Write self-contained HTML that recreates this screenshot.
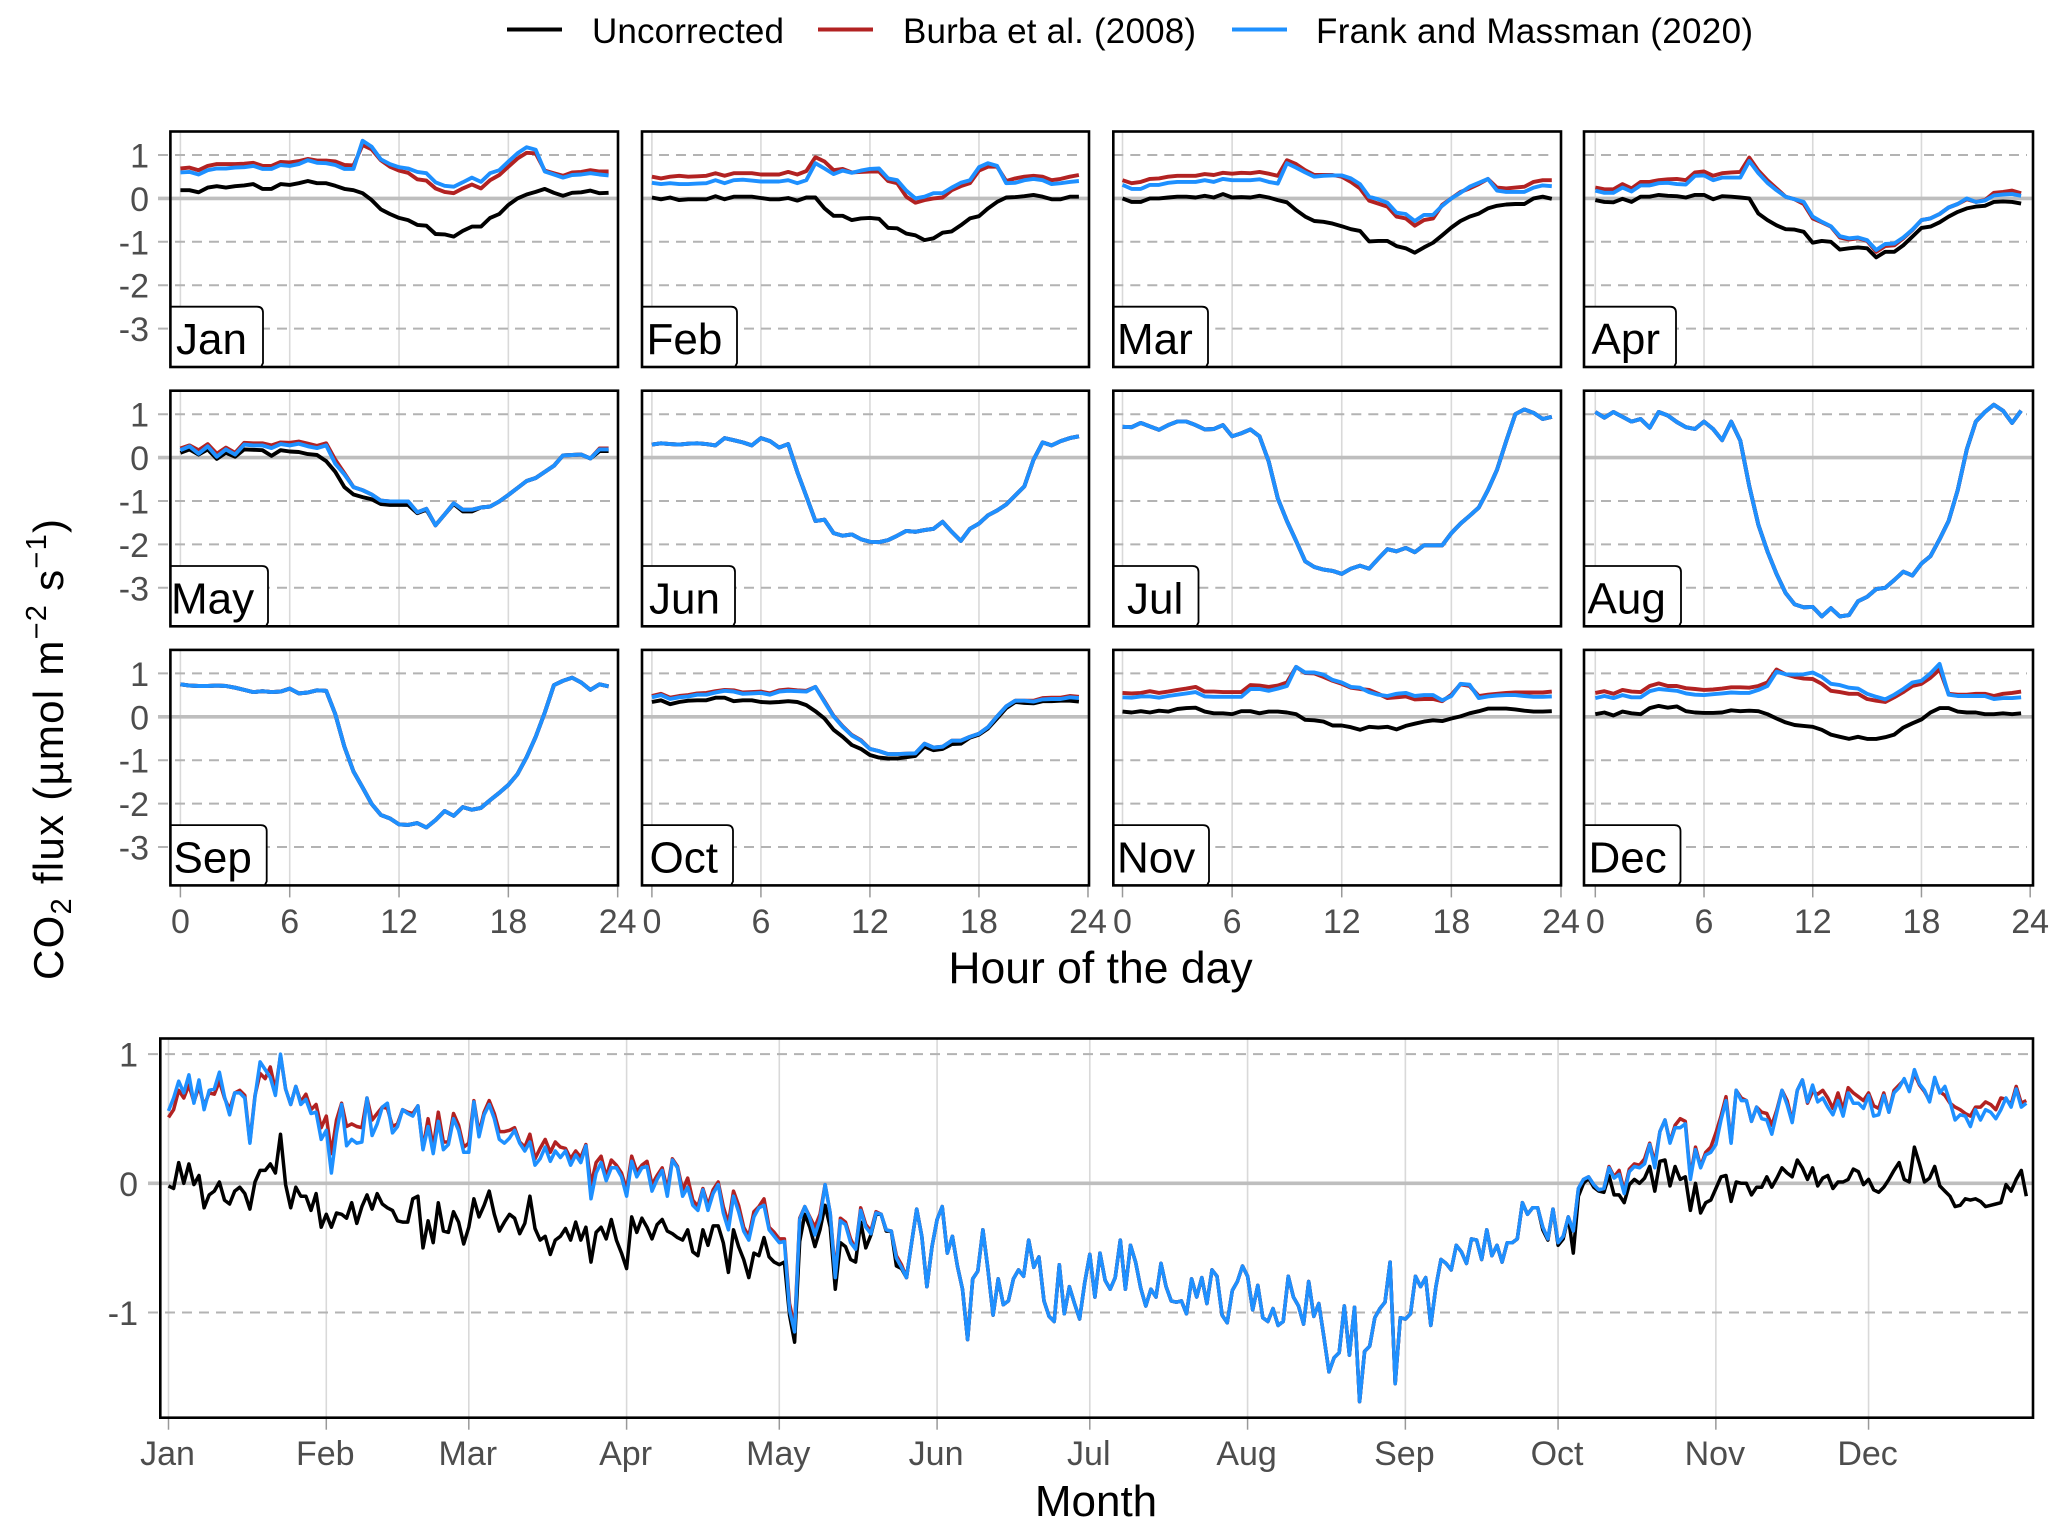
<!DOCTYPE html>
<html lang="en"><head><meta charset="utf-8"><title>CO2 flux corrections</title>
<style>html,body{margin:0;padding:0;background:#fff}svg{display:block}text{font-family:"Liberation Sans",Arial,sans-serif}</style></head>
<body>
<svg id="chart" xmlns="http://www.w3.org/2000/svg" width="2067" height="1534" viewBox="0 0 2067 1534">
<rect width="2067" height="1534" fill="#fff"/>
<g>
<line x1="507" x2="562" y1="29.5" y2="29.5" stroke="#000" stroke-width="4"/>
<text x="592" y="43" font-size="35" textLength="192" fill="#000">Uncorrected</text>
<line x1="818" x2="873" y1="29.5" y2="29.5" stroke="#b22222" stroke-width="4"/>
<text x="903" y="43" font-size="35" textLength="293" fill="#000">Burba et al. (2008)</text>
<line x1="1232" x2="1287" y1="29.5" y2="29.5" stroke="#1e90ff" stroke-width="4"/>
<text x="1316" y="43" font-size="35" textLength="437" fill="#000">Frank and Massman (2020)</text>
</g>
<text transform="translate(63,980) rotate(-90)" font-size="42" textLength="461" fill="#000">CO<tspan dy="8" font-size="29">2</tspan><tspan dy="-8"> flux (µmol m</tspan><tspan dy="-17" font-size="29">−2</tspan><tspan dy="17"> s</tspan><tspan dy="-17" font-size="29">−1</tspan><tspan dy="17">)</tspan></text>
<text x="1100.5" y="983" font-size="44.5" text-anchor="middle" fill="#000">Hour of the day</text>
<text x="1096" y="1516" font-size="44" text-anchor="middle" fill="#000">Month</text>
</svg>
<script>
const monthLabels=["Jan","Feb","Mar","Apr","May","Jun","Jul","Aug","Sep","Oct","Nov","Dec"];
const hourTicks=[0,6,12,18,24];
const fluxTicks=[1,0,-1,-2,-3];
const dailyFluxTicks=[1,0,-1];
const dailyMonthLabels=["Jan","Feb","Mar","Apr","May","Jun","Jul","Aug","Sep","Oct","Nov","Dec"];
const dailyMonthStarts=[0,31,59,90,120,151,181,212,243,273,304,334];

const janUncorrected=[.19,.19,.14,.25,.28,.25,.28,.30,.33,.22,.22,.33,.31,.35,.40,.35,.35,.29,.22,.19,.12,-.04,-.25,-.36,-.45,-.50,-.61,-.63,-.82,-.83,-.88,-.75,-.65,-.65,-.45,-.36,-.15,0,.09,.15,.22,.13,.06,.13,.14,.18,.12,.13];
const janBurba=[.69,.71,.65,.75,.79,.79,.79,.80,.82,.75,.75,.84,.83,.86,.91,.87,.87,.85,.77,.76,1.23,1.13,.88,.73,.64,.59,.44,.41,.23,.15,.12,.23,.32,.23,.42,.54,.73,.92,1.05,1.04,.64,.58,.52,.60,.61,.65,.62,.62];
const janFrank=[.60,.61,.55,.65,.69,.69,.71,.72,.75,.68,.68,.77,.75,.79,.88,.82,.81,.77,.68,.68,1.33,1.19,.90,.79,.72,.69,.61,.58,.37,.29,.27,.37,.48,.38,.58,.65,.85,1.04,1.18,1.12,.62,.55,.48,.54,.55,.58,.55,.53];
const febUncorrected=[.02,-.02,.02,-.04,-.02,-.02,-.02,.05,-.02,.04,.04,.04,.01,-.02,-.02,.01,-.05,.02,.02,-.23,-.40,-.40,-.50,-.46,-.45,-.47,-.68,-.69,-.81,-.85,-.96,-.92,-.79,-.76,-.62,-.46,-.41,-.23,-.08,.02,.03,.05,.08,.04,-.02,-.02,.04,.04];
const febBurba=[.50,.46,.50,.52,.50,.51,.52,.58,.52,.58,.58,.58,.55,.55,.55,.61,.55,.63,.95,.85,.65,.68,.60,.61,.62,.62,.40,.35,.04,-.10,-.04,0,.02,.19,.28,.35,.64,.73,.73,.40,.46,.50,.52,.50,.42,.45,.50,.54];
const febFrank=[.36,.33,.35,.33,.33,.34,.35,.42,.35,.42,.43,.41,.39,.39,.39,.42,.35,.42,.81,.69,.56,.64,.59,.64,.68,.69,.46,.42,.18,0,.04,.12,.12,.25,.36,.42,.72,.81,.75,.35,.36,.42,.45,.42,.33,.35,.38,.40];
const marUncorrected=[0,-.08,-.08,0,0,.02,.04,.04,.02,.06,.02,.10,.02,.03,.02,.06,.02,-.04,-.09,-.27,-.42,-.52,-.54,-.58,-.64,-.71,-.75,-.99,-.98,-.98,-1.10,-1.15,-1.25,-1.13,-1.02,-.85,-.67,-.52,-.42,-.35,-.23,-.17,-.14,-.13,-.13,0,.04,-.01];
const marBurba=[.42,.35,.38,.45,.46,.50,.52,.52,.52,.56,.54,.59,.57,.59,.58,.61,.57,.52,.88,.79,.65,.54,.54,.54,.50,.38,.23,-.05,-.12,-.19,-.42,-.46,-.63,-.50,-.46,-.15,0,.15,.23,.33,.45,.25,.23,.25,.27,.38,.42,.42];
const marFrank=[.31,.22,.22,.31,.31,.36,.38,.38,.38,.42,.38,.45,.42,.42,.42,.44,.38,.34,.81,.71,.60,.50,.52,.53,.53,.46,.33,.04,-.02,-.10,-.33,-.36,-.52,-.38,-.38,-.17,0,.13,.27,.36,.45,.18,.15,.15,.15,.25,.30,.28];
const aprUncorrected=[-.04,-.08,-.09,-.01,-.08,.04,.04,.08,.06,.05,.02,.08,.08,-.02,.05,.04,.02,0,-.35,-.50,-.62,-.71,-.72,-.77,-1.02,-.98,-1.0,-1.18,-1.15,-1.13,-1.15,-1.36,-1.23,-1.23,-1.08,-.88,-.68,-.65,-.55,-.42,-.31,-.23,-.19,-.17,-.08,-.07,-.08,-.12];
const aprBurba=[.25,.21,.21,.33,.23,.38,.38,.42,.44,.45,.42,.60,.62,.52,.58,.60,.61,.94,.64,.42,.23,.04,-.02,-.13,-.46,-.55,-.65,-.90,-.95,-.92,-.98,-1.23,-1.10,-1.08,-.92,-.73,-.50,-.46,-.36,-.21,-.13,-.02,-.08,-.04,.13,.15,.18,.12];
const aprFrank=[.18,.13,.13,.25,.16,.30,.30,.35,.36,.33,.32,.52,.53,.42,.48,.48,.48,.86,.58,.36,.19,.04,-.02,-.08,-.42,-.54,-.64,-.87,-.92,-.90,-.96,-1.19,-1.05,-1.04,-.90,-.72,-.50,-.46,-.36,-.21,-.13,0,-.08,-.05,.07,.09,.10,.06];
const mayUncorrected=[.11,.19,.07,.19,-.03,.11,.02,.19,.18,.17,.04,.17,.14,.13,.08,.06,-.08,-.33,-.68,-.85,-.91,-.96,-1.07,-1.09,-1.09,-1.09,-1.28,-1.20,-1.56,-1.31,-1.07,-1.24,-1.24,-1.15,-1.13,-1.01,-.86,-.70,-.54,-.47,-.33,-.19,.05,.06,.07,-.02,.15,.15];
const mayBurba=[.21,.28,.17,.31,.09,.23,.11,.34,.33,.33,.28,.35,.34,.37,.32,.27,.33,-.05,-.36,-.68,-.75,-.85,-.99,-1.01,-1.01,-1.01,-1.26,-1.18,-1.56,-1.31,-1.05,-1.20,-1.20,-1.15,-1.13,-1.01,-.86,-.70,-.54,-.47,-.33,-.19,.05,.06,.07,-.02,.21,.21];
const mayFrank=[.17,.26,.09,.26,.02,.19,.07,.30,.28,.28,.22,.31,.28,.32,.26,.22,.28,-.14,-.39,-.68,-.75,-.85,-.99,-1.01,-1.01,-1.01,-1.26,-1.18,-1.56,-1.31,-1.05,-1.20,-1.20,-1.15,-1.13,-1.01,-.86,-.70,-.54,-.47,-.33,-.19,.05,.06,.07,-.02,.19,.19];
const junFrank=[.30,.33,.31,.30,.32,.33,.31,.28,.45,.40,.35,.28,.45,.38,.23,.31,-.33,-.89,-1.46,-1.43,-1.74,-1.80,-1.77,-1.88,-1.94,-1.95,-1.90,-1.80,-1.69,-1.71,-1.67,-1.64,-1.48,-1.71,-1.92,-1.64,-1.52,-1.33,-1.22,-1.08,-.87,-.66,-.05,.35,.28,.38,.45,.49];
const julFrank=[.71,.70,.80,.72,.64,.75,.83,.83,.75,.65,.66,.75,.49,.56,.65,.49,-.09,-.94,-1.46,-1.92,-2.39,-2.52,-2.58,-2.61,-2.68,-2.56,-2.49,-2.56,-2.33,-2.11,-2.16,-2.08,-2.18,-2.02,-2.02,-2.02,-1.74,-1.52,-1.34,-1.15,-.75,-.28,.38,1.0,1.11,1.03,.89,.94];
const augFrank=[1.05,.92,1.05,.94,.83,.89,.69,1.05,.97,.82,.70,.66,.83,.66,.40,.83,.39,-.66,-1.55,-2.16,-2.68,-3.12,-3.38,-3.45,-3.44,-3.66,-3.47,-3.66,-3.63,-3.31,-3.21,-3.03,-3.0,-2.82,-2.63,-2.72,-2.44,-2.27,-1.88,-1.46,-.75,.19,.83,1.05,1.22,1.08,.80,1.08];
const sepFrank=[.75,.72,.71,.71,.72,.71,.67,.62,.57,.59,.57,.58,.65,.54,.56,.61,.60,.06,-.69,-1.26,-1.63,-2.01,-2.26,-2.34,-2.48,-2.49,-2.45,-2.55,-2.38,-2.17,-2.28,-2.08,-2.14,-2.10,-1.92,-1.75,-1.57,-1.32,-.93,-.46,.10,.73,.83,.90,.79,.62,.75,.70];
const octUncorrected=[.34,.38,.29,.34,.37,.38,.38,.44,.44,.36,.38,.38,.34,.33,.34,.36,.34,.27,.13,-.04,-.30,-.46,-.65,-.74,-.88,-.94,-.96,-.96,-.93,-.90,-.69,-.77,-.74,-.63,-.62,-.48,-.41,-.27,-.04,.20,.34,.32,.31,.36,.36,.37,.37,.35];
const octBurba=[.48,.53,.44,.48,.50,.54,.55,.59,.62,.61,.56,.57,.58,.54,.61,.63,.61,.60,.69,.36,.02,-.22,-.42,-.54,-.74,-.79,-.86,-.86,-.85,-.84,-.62,-.71,-.69,-.55,-.55,-.46,-.39,-.24,.01,.24,.37,.37,.37,.43,.44,.44,.48,.46];
const octFrank=[.45,.50,.41,.45,.47,.51,.51,.56,.60,.58,.53,.54,.55,.51,.58,.60,.59,.58,.69,.34,.01,-.23,-.43,-.55,-.74,-.79,-.86,-.86,-.85,-.84,-.62,-.71,-.69,-.55,-.55,-.46,-.39,-.24,.01,.24,.37,.37,.35,.40,.41,.41,.45,.43];
const novUncorrected=[.12,.10,.13,.10,.14,.12,.18,.20,.21,.12,.08,.08,.06,.13,.13,.08,.12,.12,.10,.06,-.07,-.08,-.11,-.20,-.20,-.24,-.30,-.23,-.25,-.23,-.29,-.21,-.16,-.11,-.08,-.10,-.04,.01,.08,.13,.19,.19,.19,.17,.14,.12,.12,.13];
const novBurba=[.55,.54,.55,.59,.55,.58,.62,.65,.69,.58,.58,.57,.57,.57,.73,.72,.69,.72,.79,1.15,1.01,1.0,.92,.83,.76,.67,.64,.62,.53,.43,.45,.47,.40,.41,.41,.36,.51,.75,.71,.48,.51,.53,.55,.56,.56,.56,.56,.58];
const novFrank=[.45,.44,.47,.47,.44,.48,.51,.54,.57,.47,.46,.46,.46,.46,.64,.64,.60,.65,.71,1.15,1.02,1.02,.97,.85,.79,.69,.67,.57,.51,.48,.53,.55,.48,.50,.50,.38,.48,.76,.74,.43,.47,.49,.50,.50,.48,.46,.46,.47];
const decUncorrected=[.06,.10,.03,.12,.08,.06,.20,.25,.21,.24,.13,.10,.09,.09,.10,.15,.13,.14,.13,.06,-.04,-.13,-.19,-.21,-.23,-.30,-.41,-.46,-.51,-.46,-.51,-.51,-.47,-.41,-.25,-.15,-.06,.10,.20,.20,.12,.10,.10,.06,.06,.08,.06,.08];
const decBurba=[.55,.59,.53,.62,.58,.57,.71,.77,.71,.71,.66,.64,.62,.63,.65,.68,.68,.67,.71,.79,1.09,.98,.92,.88,.87,.76,.60,.57,.53,.53,.41,.37,.34,.45,.57,.71,.76,.90,1.09,.53,.51,.51,.53,.53,.48,.53,.55,.58];
const decFrank=[.43,.48,.43,.50,.45,.45,.59,.64,.62,.60,.54,.51,.50,.52,.54,.56,.55,.55,.62,.71,1.04,.98,.97,.98,1.02,.92,.76,.73,.67,.65,.53,.46,.40,.51,.64,.79,.83,1.0,1.22,.51,.48,.48,.48,.48,.41,.43,.43,.45];

const uncorrectedByMonth=[janUncorrected,febUncorrected,marUncorrected,aprUncorrected,mayUncorrected,junFrank,julFrank,augFrank,sepFrank,octUncorrected,novUncorrected,decUncorrected];
const burbaByMonth=[janBurba,febBurba,marBurba,aprBurba,mayBurba,junFrank,julFrank,augFrank,sepFrank,octBurba,novBurba,decBurba];
const frankByMonth=[janFrank,febFrank,marFrank,aprFrank,mayFrank,junFrank,julFrank,augFrank,sepFrank,octFrank,novFrank,decFrank];

const dailyFrankEarly=[.56,.66,.79,.70,.84,.62,.80,.57,.72,.73,
.86,.67,.53,.70,.70,.66,.31,.67,.94,.88,
.82,.68,1.0,.73,.61,.75,.61,.65,.54,.55,
.34,.41,.08,.39,.61,.29,.34,.31,.32,.66,
.37,.46,.59,.62,.39,.44,.57,.54,.52,.60,
.26,.44,.23,.48,.26,.30,.50,.41,.24,.24,
.63,.36,.53,.61,.50,.34,.31,.35,.41,.31,
.25,.32,.14,.19,.28,.17,.25,.20,.25,.14,
.22,.16,.29,-.12,.08,.16,.02,.12,.12,.05,
-.10,.17,.05,.12,.13,-.06,.03,.10,-.10,.18,
.12,-.10,-.03,-.17,-.21,-.05,-.21,-.08,-.01,-.23,
-.36,-.10,-.22,-.37,-.44,-.26,-.19,-.17,-.36,-.41,
-.46,-.45,-.98,-1.15,-.28,-.18,-.27,-.40,-.28,-.01,
-.23,-.73,-.29,-.32,-.46,-.51,-.21,-.34,-.39,-.23,
-.24,-.36,-.37,-.58,-.65,-.73];
const dailyBurbaEarly=[.51,.57,.72,.66,.76,.63,.75,.60,.70,.69,
.79,.66,.57,.70,.72,.68,.32,.68,.85,.81,
.90,.72,.99,.73,.61,.75,.63,.69,.57,.61,
.43,.52,.23,.49,.62,.44,.46,.44,.43,.66,
.49,.54,.59,.58,.44,.46,.57,.55,.54,.60,
.27,.50,.28,.55,.32,.32,.54,.45,.28,.31,
.64,.39,.55,.64,.54,.40,.40,.41,.43,.32,
.28,.38,.19,.27,.34,.24,.32,.28,.27,.19,
.25,.20,.30,-.01,.16,.21,.05,.18,.14,.08,
-.05,.21,.09,.14,.17,-.01,.06,.12,-.05,.19,
.13,-.05,.04,-.13,-.18,-.04,-.17,-.05,.01,-.18,
-.31,-.06,-.17,-.34,-.41,-.22,-.18,-.12,-.34,-.38,
-.43,-.43,-.93,-1.11,-.27,-.18,-.26,-.34,-.24,-.01,
-.23,-.70,-.27,-.30,-.43,-.51,-.19,-.32,-.37,-.22,
-.24,-.36,-.37,-.56,-.63,-.73];
const dailyUncorrectedEarly=[-.02,-.04,.16,0,.15,-.01,.06,-.19,-.09,-.06,
.01,-.13,-.16,-.06,-.03,-.08,-.20,.01,.10,.10,
.15,.08,.38,-.01,-.19,-.03,-.10,-.10,-.21,-.08,
-.34,-.24,-.34,-.23,-.24,-.27,-.15,-.31,-.18,-.09,
-.20,-.08,-.16,-.19,-.21,-.29,-.30,-.30,-.12,-.10,
-.50,-.29,-.46,-.15,-.37,-.38,-.22,-.30,-.47,-.34,
-.12,-.26,-.17,-.06,-.24,-.37,-.30,-.24,-.27,-.39,
-.31,-.10,-.35,-.44,-.41,-.55,-.44,-.41,-.35,-.44,
-.30,-.44,-.34,-.61,-.38,-.34,-.43,-.28,-.44,-.54,
-.66,-.26,-.38,-.27,-.34,-.43,-.32,-.28,-.37,-.39,
-.42,-.44,-.36,-.53,-.56,-.36,-.48,-.33,-.33,-.46,
-.69,-.36,-.49,-.59,-.73,-.54,-.56,-.42,-.57,-.61,
-.63,-.61,-1.02,-1.23,-.45,-.24,-.34,-.49,-.36,-.17,
-.34,-.82,-.46,-.49,-.59,-.61,-.30,-.50,-.40,-.24,
-.24,-.37,-.37,-.64,-.66,-.73];
const dailySummer=[-.46,-.20,-.41,-.80,-.49,-.28,-.18,-.54,-.41,-.64,
-.82,-1.21,-.74,-.68,-.36,-.67,-1.02,-.74,-.94,-.91,
-.74,-.67,-.72,-.44,-.65,-.57,-.91,-1.03,-1.07,-.63,
-1.01,-.80,-.93,-1.05,-.77,-.55,-.88,-.54,-.75,-.82,
-.73,-.44,-.82,-.48,-.61,-.81,-.95,-.82,-.88,-.62,
-.80,-.91,-.92,-.91,-1.01,-.74,-.88,-.73,-.93,-.67,
-.72,-1.02,-1.08,-.83,-.76,-.64,-.72,-.98,-.79,-1.04,
-1.07,-.97,-1.10,-1.07,-.72,-.88,-.95,-1.09,-.76,-1.03,
-.93,-1.19,-1.46,-1.35,-1.31,-.95,-1.33,-.96,-1.69,-1.30,
-1.26,-1.04,-.97,-.92,-.61,-1.55,-1.04,-1.05,-1.01,-.72,
-.80,-.73,-1.10,-.80,-.59,-.62,-.67,-.48,-.53,-.62,
-.43,-.44,-.59,-.36,-.56,-.48,-.61,-.46,-.46,-.43,
-.15,-.24,-.19,-.19];
const dailyFrankLate=[-.34,-.43,-.20,-.46,-.41,-.26,-.37,-.04,.03,.05,
-.01,-.05,-.04,.12,.04,.07,-.08,.09,.13,.12,
.15,.30,.12,.40,.49,.31,.43,.43,.46,.03,
.26,.12,.22,.24,.30,.49,.64,.31,.72,.64,
.64,.48,.59,.50,.49,.38,.55,.72,.61,.47,
.72,.80,.63,.76,.63,.66,.59,.53,.64,.52,
.70,.62,.62,.58,.68,.52,.53,.68,.55,.70,
.74,.81,.71,.88,.77,.72,.63,.82,.70,.75,
.63,.49,.53,.52,.44,.57,.49,.57,.55,.50,
.57,.66,.59,.73,.59,.62];
const dailyBurbaLate=[-.34,-.43,-.20,-.46,-.41,-.26,-.37,-.04,.03,.05,
-.01,-.05,-.04,.13,.05,.10,-.06,.11,.15,.14,
.19,.31,.16,.40,.49,.32,.45,.50,.48,.05,
.28,.13,.24,.28,.39,.52,.67,.32,.72,.66,
.64,.48,.59,.55,.54,.45,.57,.72,.64,.48,
.72,.80,.62,.71,.69,.72,.66,.58,.70,.57,
.74,.70,.67,.64,.70,.60,.58,.70,.55,.72,
.76,.80,.72,.85,.76,.71,.64,.81,.71,.68,
.62,.59,.57,.54,.52,.59,.59,.63,.61,.57,
.66,.65,.61,.75,.62,.64];
const dailyUncorrectedLate=[-.36,-.44,-.20,-.48,-.43,-.26,-.54,-.10,0,.04,
-.03,-.06,-.07,.06,-.09,-.09,-.15,-.01,.03,0,
.04,.13,-.06,.17,.18,-.02,.13,.03,.05,-.21,
0,-.23,-.15,-.13,-.04,.05,.06,-.14,.01,0,
0,-.09,-.03,-.03,.05,-.03,.04,.12,.08,.05,
.18,.12,.03,.12,-.02,.04,.06,-.04,.01,.01,
.03,.11,.09,-.01,.03,-.05,-.07,-.03,.03,.10,
.16,.03,.01,.28,.15,.01,.04,.13,-.02,-.06,
-.10,-.18,-.17,-.12,-.13,-.12,-.14,-.18,-.17,-.16,
-.15,-.01,-.06,.03,.10,-.10];
const dailyFrank=[...dailyFrankEarly,...dailySummer,...dailyFrankLate];
const dailyBurba=[...dailyBurbaEarly,...dailySummer,...dailyBurbaLate];
const dailyUncorrected=[...dailyUncorrectedEarly,...dailySummer,...dailyUncorrectedLate];

const svg=document.getElementById('chart');
const NS='http://www.w3.org/2000/svg';
const TICK='#4d4d4d',BLACK='#000000',RED='#b22222',BLUE='#1e90ff';
const columns=[{left:170.4,right:618,h0:180.4,k:18.22},{left:642,right:1089,h0:651.9,k:18.17},{left:1113.3,right:1561,h0:1122.5,k:18.27},{left:1584,right:2033,h0:1595.3,k:18.12}];
const rows=[{top:131.5,bottom:367,zero:198.4},{top:390.7,bottom:626.3,zero:457.6},{top:649.9,bottom:885.4,zero:716.8}];
const labelBoxes=[[263,176],[737,646.5],[1208,1117],[1676,1591.5],[268,171],[735,649],[1198.5,1127],[1681,1587.5],[266.7,173.5],[733,649.5],[1209,1117],[1680.5,1588.5]];
const unitPx=43.4;

function make(tag,attrs,parent,content){
  const el=document.createElementNS(NS,tag);
  for(const k in attrs)el.setAttribute(k,attrs[k]);
  if(content!==undefined)el.textContent=content;
  parent.appendChild(el);
  return el;
}
function xHour(col,h){return columns[col].h0+columns[col].k*h;}
function yFlux(row,v){return rows[row].zero-unitPx*v;}
function halfHourPath(col,row,values){return values.map((v,i)=>xHour(col,i*0.5).toFixed(1)+','+yFlux(row,v).toFixed(1)).join(' ');}

monthLabels.forEach((label,m)=>{
  const col=m%4,row=Math.floor(m/4),C=columns[col],R=rows[row];
  const g=make('g',{},svg);
  
  
  hourTicks.forEach(h=>{
    const x=xHour(col,h);
    if(h<24){
      const v=make('line',{x1:x,x2:x,y1:R.top,y2:R.bottom,stroke:'#d9d9d9','stroke-width':1.6},g);
      
      
    }
    if(row===2){
      const t=make('line',{x1:x,x2:x,y1:R.bottom,y2:R.bottom+12,stroke:'#999','stroke-width':1.5},g);
      
      
      const lab=make('text',{x:x,y:933,'font-size':34,'text-anchor':'middle',fill:TICK},g,String(h));
      
      
    }
  });
  fluxTicks.forEach(v=>{
    const y=yFlux(row,v);
    const startX=col===0?158:C.left;
    const isZero=v===0;
    const ln=make('line',{x1:startX,x2:C.right-(isZero?0:6),y1:y,y2:y,stroke:isZero?'#bebebe':'#b3b3b3','stroke-width':isZero?3.6:2,'stroke-dasharray':isZero?'none':'10 7'},g);
    
    
    if(col===0){
      const lab=make('text',{x:149,y:y+12.5,'font-size':34,'text-anchor':'end',fill:TICK},g,String(v));
      
      
    }
  });
  const lineStyle={fill:'none','stroke-width':3.9,'stroke-linejoin':'round'};
  const l1=make('polyline',{...lineStyle,points:halfHourPath(col,row,uncorrectedByMonth[m]),stroke:BLACK},g);
  
  
  const l2=make('polyline',{...lineStyle,points:halfHourPath(col,row,burbaByMonth[m]),stroke:RED},g);
  
  
  const l3=make('polyline',{...lineStyle,points:halfHourPath(col,row,frankByMonth[m]),stroke:BLUE},g);
  
  
  const boxTop=R.bottom-60.3;
  const box=make('path',{d:`M${C.left} ${boxTop}H${labelBoxes[m][0]-6}Q${labelBoxes[m][0]} ${boxTop} ${labelBoxes[m][0]} ${boxTop+6}V${R.bottom-4}L${labelBoxes[m][0]-2} ${R.bottom}H${C.left}Z`,fill:'#fff',stroke:'#000','stroke-width':1.8},g);
  
  
  const txt=make('text',{x:labelBoxes[m][1],y:R.bottom-13,'font-size':44,fill:'#000'},g,label);
  
  
  const frame=make('rect',{x:C.left,y:R.top,width:C.right-C.left,height:R.bottom-R.top,fill:'none',stroke:'#000','stroke-width':2.6},g);
  
  
});

const daily={left:160.3,right:2033,top:1038.5,bottom:1417.7,zero:1183.3,unit:129.2,x0:168.5,perDay:5.09};
function xDay(d){return daily.x0+daily.perDay*d;}
function yDaily(v){return daily.zero-daily.unit*v;}
function dailyPath(values){return values.map((v,i)=>xDay(i).toFixed(1)+','+yDaily(v).toFixed(1)).join(' ');}
const dg=make('g',{},svg);


dailyMonthStarts.forEach((d,i)=>{
  const x=xDay(d);
  const gl=make('line',{x1:x,x2:x,y1:daily.top,y2:daily.bottom,stroke:'#d9d9d9','stroke-width':1.6},dg);
  
  
  const tk=make('line',{x1:x,x2:x,y1:daily.bottom,y2:daily.bottom+12,stroke:'#999','stroke-width':1.5},dg);
  
  
  const lab=make('text',{x:x-1,y:1465,'font-size':34,'text-anchor':'middle',fill:TICK},dg,dailyMonthLabels[i]);
  
  
});
dailyFluxTicks.forEach(v=>{
  const y=yDaily(v);
  const isZero=v===0;
  const ln=make('line',{x1:148,x2:daily.right-(isZero?0:4),y1:y,y2:y,stroke:isZero?'#bebebe':'#b3b3b3','stroke-width':isZero?3.6:2,'stroke-dasharray':isZero?'none':'10 7'},dg);
  
  
  const lab=make('text',{x:138,y:y+12.5,'font-size':34,'text-anchor':'end',fill:TICK},dg,String(v));
  
  
});
const dailyStyle={fill:'none','stroke-width':3.5,'stroke-linejoin':'round'};
const d1=make('polyline',{...dailyStyle,points:dailyPath(dailyUncorrected),stroke:BLACK},dg);


const d2=make('polyline',{...dailyStyle,points:dailyPath(dailyBurba),stroke:RED},dg);


const d3=make('polyline',{...dailyStyle,points:dailyPath(dailyFrank),stroke:BLUE},dg);


const df=make('rect',{x:daily.left,y:daily.top,width:daily.right-daily.left,height:daily.bottom-daily.top,fill:'none',stroke:'#000','stroke-width':2.6},dg);


</script>
</body></html>
